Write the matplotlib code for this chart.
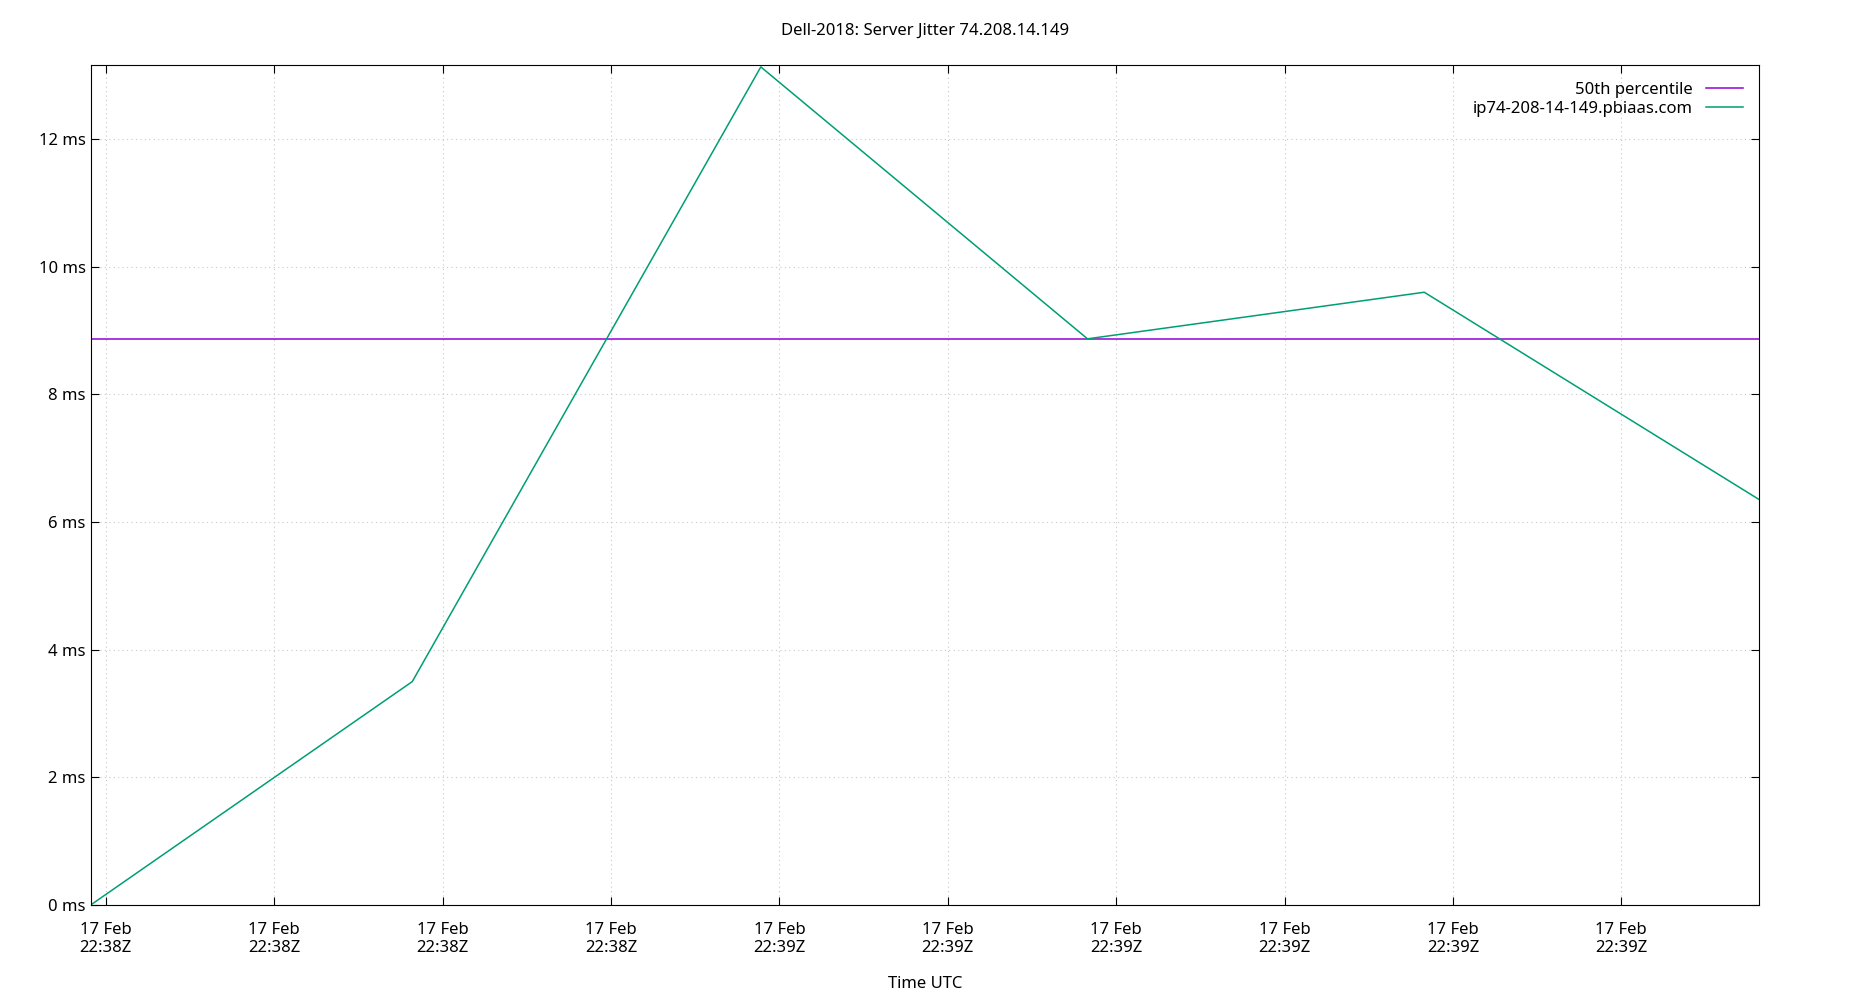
import matplotlib
matplotlib.use("Agg")
import matplotlib.pyplot as plt
import matplotlib.dates as mdates
from datetime import datetime, timedelta

plt.rcParams['font.family'] = ['Noto Sans', 'DejaVu Sans']

base = datetime(2018, 2, 17, 22, 38, 0)
# seconds after 22:38:00
secs = [28.1, 47.2, 67.9, 87.3, 107.3, 127.2]
jitter = [0.0, 3.5, 13.13, 8.87, 9.6, 6.35]
median = 8.87
times = [base + timedelta(seconds=s) for s in secs]
tick_secs = [29, 39, 49, 59, 69, 79, 89, 99, 109, 119]
ticks = [base + timedelta(seconds=s) for s in tick_secs]

fig = plt.figure(figsize=(18.5, 10), dpi=100)
ax = fig.add_axes([0.049, 0.095, 0.902, 0.84])

ax.axhline(median, color='#9400d3', lw=1.1, label='50th percentile')
ax.plot(times, jitter, color='#009e73', lw=1.1, label='ip74-208-14-149.pbiaas.com')

ax.set_xlim(times[0], times[-1])
ax.set_ylim(0, 13.16)
ax.set_xticks(ticks)
ax.xaxis.set_major_formatter(mdates.DateFormatter('%d %b\n%H:%MZ'))
ax.set_yticks(range(0, 13, 2))
ax.set_yticklabels([f'{v} ms' for v in range(0, 13, 2)])
ax.tick_params(direction='in', top=True, right=True, labelsize=12, length=6)
ax.tick_params(axis='x', pad=12)
ax.grid(True, color='#c8c8c8', linestyle=(0, (1, 3)), lw=0.8)
ax.set_xlabel('Time UTC', fontsize=12, labelpad=14)
ax.set_title('Dell-2018: Server Jitter 74.208.14.149', fontsize=12, pad=22)

leg = ax.legend(loc='upper right', frameon=False, fontsize=12, markerfirst=False,
                handlelength=2.2, borderaxespad=0.6, labelspacing=0.2)
for t in leg.get_texts():
    t.set_ha('right')

fig.savefig('out.png', dpi=100)
